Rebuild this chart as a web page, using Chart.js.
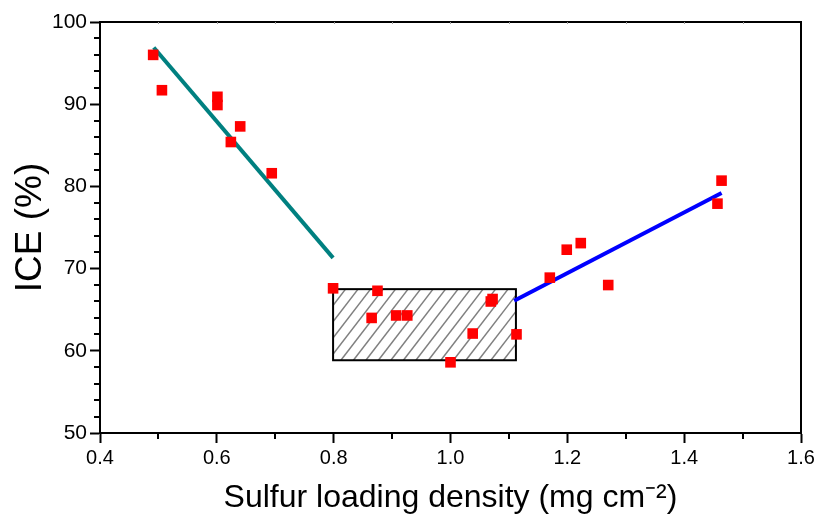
<!DOCTYPE html>
<html><head><meta charset="utf-8">
<script src="https://cdn.jsdelivr.net/npm/chart.js@4/dist/chart.umd.min.js"></script>
<style>html,body{margin:0;padding:0;background:#fff;overflow:hidden;} #wrap{width:821px;height:528px;position:relative;}</style>
</head><body><div id="wrap"><canvas id="c" width="821" height="528"></canvas></div>
<script>
// ---- data ----
const loadingX = [0.491,0.506,0.601,0.601,0.640,0.624,0.694,0.799,0.875,0.865,0.907,0.926,1.069,1.072,1.038,1.113,1.000,1.170,1.199,1.223,1.270,1.457,1.464];
const iceY     = [96.0, 91.7, 90.9, 89.9, 87.3, 85.4, 81.6, 67.6, 67.3, 64.0, 64.3, 64.3, 66.0, 66.3, 62.1, 62.0, 58.6, 68.9, 72.3, 73.1, 68.0, 77.9, 80.7];
const fitLowX  = [0.492, 0.799];
const fitLowY  = [96.9, 71.3];
const fitHighX = [1.109, 1.464];
const fitHighY = [66.1, 79.2];
const boxX = [0.799, 1.112];
const boxY = [58.85, 67.5];
const xTickValues = [0.4,0.6,0.8,1.0,1.2,1.4,1.6];
const xTickLabels = ['0.4','0.6','0.8','1.0','1.2','1.4','1.6'];
const xMinorTicks = [0.5,0.7,0.9,1.1,1.3,1.5];
const yTickValues = [50,60,70,80,90,100];
const yTickLabels = ['50','60','70','80','90','100'];
const yMinorTicks = [52,54,56,58,62,64,66,68,72,74,76,78,82,84,86,88,92,94,96,98];
const xTitle = 'Sulfur loading density (mg cm\u207B\u00B2)';
const yTitle = 'ICE (%)';

const pts = (xs, ys) => xs.map((x, i) => ({x, y: ys[i]}));

const framePlugin = {
  id: 'frame',
  beforeDatasetsDraw(chart) {
    const {ctx, scales: {x, y}} = chart;
    const l = x.getPixelForValue(boxX[0]), r = x.getPixelForValue(boxX[1]);
    const t = y.getPixelForValue(boxY[1]), b = y.getPixelForValue(boxY[0]);
    ctx.save();
    ctx.beginPath(); ctx.rect(l, t, r - l, b - t); ctx.clip();
    ctx.strokeStyle = '#808080'; ctx.lineWidth = 1.5;
    const slope = 1.3, sp = 12.5, h = b - t;
    for (let sx = l - h / slope; sx < r + sp; sx += sp) {
      ctx.beginPath(); ctx.moveTo(sx, b); ctx.lineTo(sx + h / slope, t); ctx.stroke();
    }
    ctx.restore();
    ctx.save();
    ctx.strokeStyle = '#000'; ctx.lineWidth = 2;
    ctx.strokeRect(l, t, r - l, b - t);
    ctx.restore();
  },
  afterDraw(chart) {
    const {ctx, chartArea: a, scales: {x, y}} = chart;
    ctx.save();
    ctx.strokeStyle = '#000'; ctx.lineWidth = 2;
    ctx.beginPath();
    ctx.moveTo(a.left, a.top); ctx.lineTo(a.right, a.top); ctx.lineTo(a.right, a.bottom);
    ctx.stroke();
    xMinorTicks.forEach(v => { const px = Math.round(x.getPixelForValue(v)); ctx.beginPath(); ctx.moveTo(px, a.bottom); ctx.lineTo(px, a.bottom + 6); ctx.stroke(); });
    yMinorTicks.forEach(v => { const py = Math.round(y.getPixelForValue(v)); ctx.beginPath(); ctx.moveTo(a.left, py); ctx.lineTo(a.left - 6, py); ctx.stroke(); });
    ctx.lineWidth = 1;
    ctx.strokeStyle = '#999';
    xMinorTicks.concat(xTickValues.slice(1, -1)).forEach(v => { const px = Math.round(x.getPixelForValue(v)) + 0.5; ctx.beginPath(); ctx.moveTo(px, a.top); ctx.lineTo(px, a.top + 2); ctx.stroke(); });
    ctx.restore();
  }
};

new Chart(document.getElementById('c'), {
  type: 'scatter',
  data: {
    datasets: [
      { label: 'ICE', data: pts(loadingX, iceY), pointStyle: 'rect', pointRadius: 7.5, pointHoverRadius: 7.5,
        backgroundColor: '#ff0000', borderWidth: 0, order: 1 },
      { label: 'fit low', data: pts(fitLowX, fitLowY), type: 'line', showLine: true, pointRadius: 0,
        borderColor: '#008080', borderWidth: 4, fill: false, order: 2 },
      { label: 'fit high', data: pts(fitHighX, fitHighY), type: 'line', showLine: true, pointRadius: 0,
        borderColor: '#0000ff', borderWidth: 4, fill: false, order: 2 }
    ]
  },
  options: {
    responsive: false, animation: false,
    layout: { padding: { left: 0, top: 22, right: 20, bottom: 0 } },
    plugins: { legend: { display: false }, tooltip: { enabled: false } },
    scales: {
      x: {
        type: 'linear', min: 0.4, max: 1.6,
        afterBuildTicks: s => { s.ticks = xTickValues.map(v => ({value: v})); },
        afterFit: s => { s.height = 95; },
        ticks: { callback: (v, i) => xTickLabels[i], color: '#000', padding: 3,
                 font: { family: 'Liberation Sans', size: 20 }, maxRotation: 0 },
        grid: { drawOnChartArea: false, tickLength: 10, tickColor: '#000', tickWidth: 2 },
        border: { color: '#000', width: 2 },
        title: { display: true, text: xTitle, color: '#000', padding: { top: 0, bottom: 14 },
                 font: { family: 'Liberation Sans', size: 32, lineHeight: 1 } }
      },
      y: {
        type: 'linear', min: 50, max: 100,
        afterBuildTicks: s => { s.ticks = yTickValues.map(v => ({value: v})); },
        afterFit: s => { s.width = 100; },
        ticks: { callback: (v, i) => yTickLabels[i], color: '#000', padding: 3,
                 font: { family: 'Liberation Sans', size: 21 } },
        grid: { drawOnChartArea: false, tickLength: 10, tickColor: '#000', tickWidth: 2 },
        border: { color: '#000', width: 2 },
        title: { display: true, text: yTitle, color: '#000', padding: { top: 12, bottom: 0 },
                 font: { family: 'Liberation Sans', size: 37, lineHeight: 1 } }
      }
    }
  },
  plugins: [framePlugin]
});
</script>
</body></html>
